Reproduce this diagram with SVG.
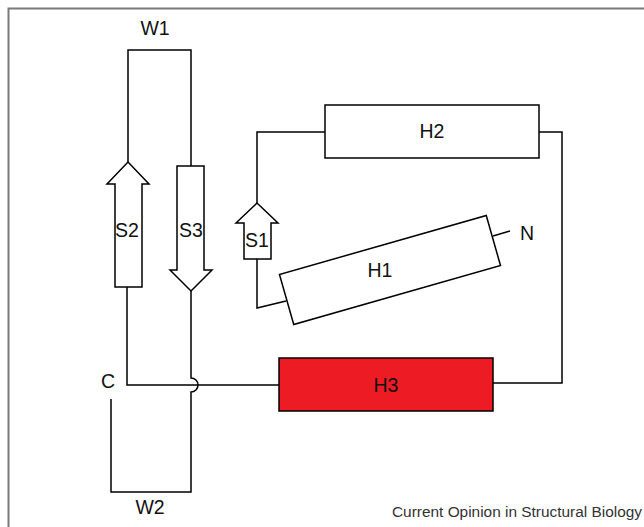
<svg xmlns="http://www.w3.org/2000/svg" width="644" height="527" viewBox="0 0 644 527">
<style>
.ln{fill:none;stroke:#000;stroke-width:1.5;stroke-linejoin:miter}
.sh{fill:#fff;stroke:#000;stroke-width:1.5}
.lb{font-family:"Liberation Sans",Arial,sans-serif;font-size:19.5px;fill:#111;text-anchor:middle}
.frame{fill:none;stroke:#7a7a7a;stroke-width:2}
</style>
<rect width="644" height="527" fill="#fff"/>
<path class="frame" d="M8.5,527 V8.5 H644"/>
<g id="connectors">
<path class="ln" d="M128,163 V50 H191 V166"/>
<path class="ln" d="M127,287 V385 H279"/>
<path class="ln" d="M191,291 V378 A7,7 0 0 1 191,392 V492 H111 V399"/>
<path class="ln" d="M493,383 H562 V132 H539"/>
<path class="ln" d="M325,132 H257 V203"/>
<path class="ln" d="M257,259 V308 L286,301"/>
<path class="ln" d="M493,236 L510,231"/>
</g>
<g id="S2"><path class="sh" d="M128,162 L149,184 H142 V287 H115 V184 H107 Z"/><text class="lb" x="127" y="237">S2</text></g>
<g id="S3"><path class="sh" d="M177,166 H204 V270 H212 L191,291 L170,270 H177 Z"/><text class="lb" x="191" y="237">S3</text></g>
<g id="S1"><path class="sh" d="M257,203 L278,223 H271 V259 H244 V223 H236 Z"/><text class="lb" x="257" y="247">S1</text></g>
<g id="H2"><rect class="sh" x="325" y="105" width="214" height="53"/><text class="lb" x="432" y="138">H2</text></g>
<g id="H1"><rect class="sh" x="-107.5" y="-26" width="215" height="52" transform="translate(390,270) rotate(-15.9)"/><text class="lb" x="380" y="277">H1</text></g>
<g id="H3"><rect x="279" y="358" width="214" height="53" fill="#ED1C24" stroke="#000" stroke-width="1.5"/><text class="lb" x="386" y="392">H3</text></g>
<g id="labels">
<text class="lb" x="155" y="35">W1</text>
<text class="lb" x="150" y="514">W2</text>
<text class="lb" x="108" y="388">C</text>
<text class="lb" x="527" y="240">N</text>
<text x="392" y="517" font-family="'Liberation Sans',Arial,sans-serif" font-size="14" fill="#333" textLength="250" lengthAdjust="spacingAndGlyphs">Current Opinion in Structural Biology</text>
</g>
</svg>
